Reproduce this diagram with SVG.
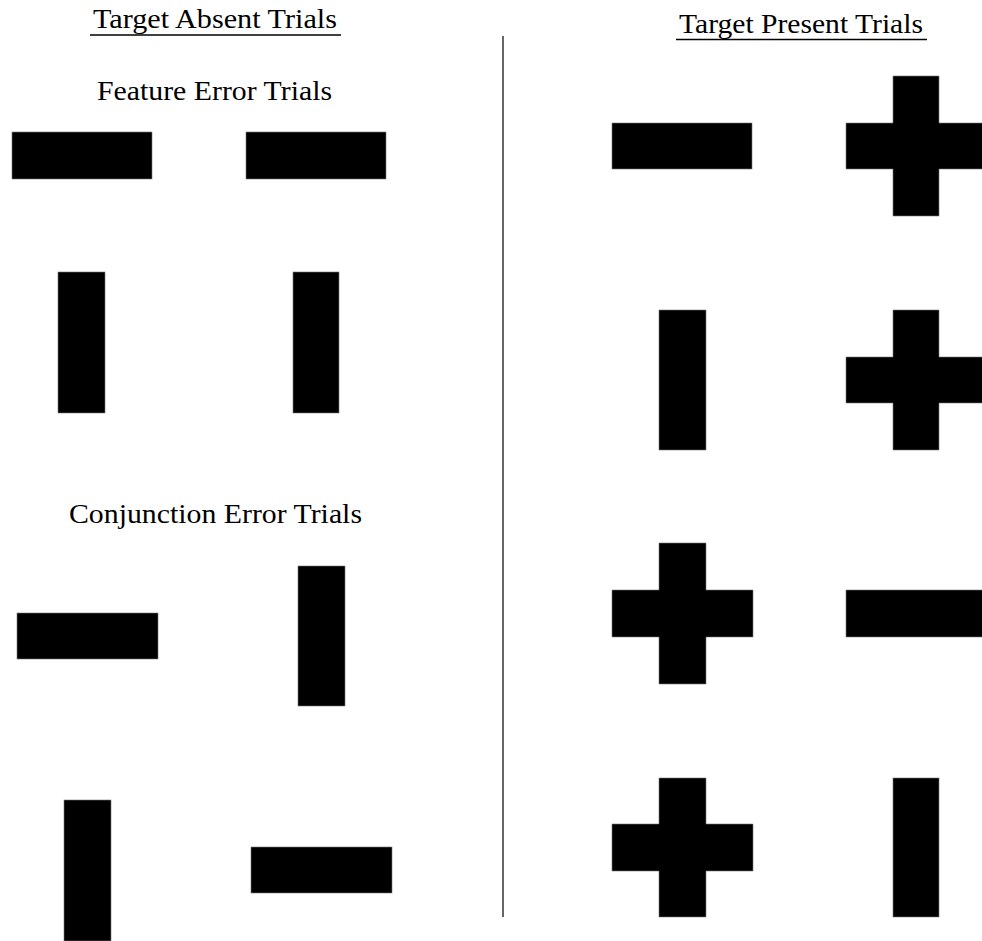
<svg xmlns="http://www.w3.org/2000/svg" width="982" height="941" viewBox="0 0 982 941">
<style>
  .t { font-family: "Liberation Serif", "Times New Roman", serif; font-size: 27px; fill: #000; }
  .s { fill: #000; stroke: #777; stroke-width: 0.6; }
  .ul { stroke: #000; stroke-width: 1.5; }
</style>
<rect width="982" height="941" fill="#fff"/>
<g id="divider">
  <line x1="503" y1="36" x2="503" y2="917" stroke="#333" stroke-width="1.5"/>
</g>
<g id="title-absent">
  <text class="t" x="93" y="28" textLength="244" lengthAdjust="spacingAndGlyphs">Target Absent Trials</text>
  <line class="ul" x1="90" y1="35" x2="341" y2="35"/>
</g>
<g id="title-present">
  <text class="t" x="679" y="33" textLength="244" lengthAdjust="spacingAndGlyphs">Target Present Trials</text>
  <line class="ul" x1="676" y1="39.5" x2="927" y2="39.5"/>
</g>
<g id="label-feature">
  <text class="t" x="97" y="100" textLength="235" lengthAdjust="spacingAndGlyphs">Feature Error Trials</text>
</g>
<g id="label-conjunction">
  <text class="t" x="69" y="523" textLength="293" lengthAdjust="spacingAndGlyphs">Conjunction Error Trials</text>
</g>
<g id="feature-shapes">
  <rect class="s" x="12" y="132" width="140" height="47"/>
  <rect class="s" x="246" y="132" width="140" height="47"/>
  <rect class="s" x="58" y="272" width="47" height="141"/>
  <rect class="s" x="293" y="272" width="46" height="141"/>
</g>
<g id="conjunction-shapes">
  <rect class="s" x="17" y="613" width="141" height="46"/>
  <rect class="s" x="298" y="566" width="47" height="140"/>
  <rect class="s" x="64" y="800" width="47" height="141"/>
  <rect class="s" x="251" y="847" width="141" height="46"/>
</g>
<g id="present-shapes">
  <rect class="s" x="612" y="123" width="140" height="46"/>
  <path class="s" d="M893 76 H939 V123 H986 V169 H939 V216 H893 V169 H846 V123 H893 Z"/>
  <rect class="s" x="659" y="310" width="47" height="140"/>
  <path class="s" d="M893 310 H939 V357 H986 V403 H939 V450 H893 V403 H846 V357 H893 Z"/>
  <path class="s" d="M659 543 H706 V590 H753 V637 H706 V684 H659 V637 H612 V590 H659 Z"/>
  <rect class="s" x="846" y="590" width="140" height="47"/>
  <path class="s" d="M659 778 H706 V824 H753 V871 H706 V917 H659 V871 H612 V824 H659 Z"/>
  <rect class="s" x="893" y="778" width="46" height="139"/>
</g>
</svg>
